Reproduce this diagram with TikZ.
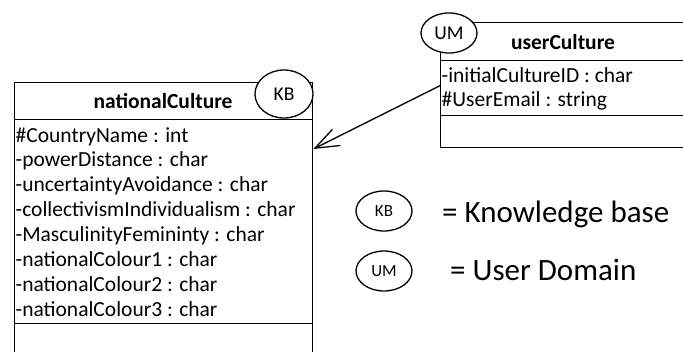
\documentclass[tikz,border=0pt]{standalone}
\usepackage{fontspec}
\setmainfont{Carlito}
\usetikzlibrary{shapes.geometric,arrows.meta}

\tikzset{
  uml/.style={draw, line width=1.3pt, inner sep=0pt, anchor=north west},
  attr/.style={inner sep=0pt, anchor=base west, font=\fontsize{21.5}{24}\selectfont},
  ctitle/.style={inner sep=0pt, anchor=base, font=\fontsize{21.5}{24}\selectfont\bfseries},
  tag/.style={draw, ellipse, fill=white, line width=1.3pt, inner sep=0pt,
              minimum width=56pt, minimum height=40pt, font=\fontsize{19.5}{22}\selectfont},
  keytag/.style={tag, font=\fontsize{17}{20}\selectfont},
  keytext/.style={inner sep=0pt, anchor=base west, font=\fontsize{31}{34}\selectfont},
  assoc/.style={line width=1.3pt, -{Straight Barb[length=24pt,width=18pt,line width=1.3pt]}}
}

\begin{document}
\begin{tikzpicture}[x=1pt, y=-1pt]
\useasboundingbox (0,0) rectangle (683,351);

% class nationalCulture
\node[uml, minimum width=298pt, minimum height=37pt]  (nc-head) at (14,82)  {};
\node[uml, minimum width=298pt, minimum height=204pt] (nc-attr) at (14,119) {};
\node[uml, minimum width=298pt, minimum height=50pt]  (nc-ops)  at (14,323) {};
\node[ctitle] (nc-title) at (163,108.5) {nationalCulture};
\foreach \t [count=\i from 0] in {\#CountryName : int, -powerDistance : char,
    -uncertaintyAvoidance : char, -collectivismIndividualism : char,
    -MasculinityFemininty : char, -nationalColour1 : char,
    -nationalColour2 : char, -nationalColour3 : char}
  \node[attr] (nc-a\i) at (15.5, 142+24.9*\i) {\t};

% class userCulture
\node[uml, minimum width=270pt, minimum height=38pt] (uc-head) at (440,22)  {};
\node[uml, minimum width=270pt, minimum height=55pt] (uc-attr) at (440,60)  {};
\node[uml, minimum width=270pt, minimum height=32pt] (uc-ops)  at (440,115) {};
\node[ctitle] (uc-title) at (563,49) {userCulture};
\node[attr] (uc-a0) at (441.5,82)  {-initialCultureID : char};
\node[attr] (uc-a1) at (441.5,106) {\#UserEmail : string};

% domain tags
\node[tag, minimum width=58pt, minimum height=48pt] (kb-tag) at (284,94) {KB};
\node[tag] (um-tag) at (449,33) {UM};

% association
\draw[assoc] ([yshift=2.5pt]uc-attr.west) -- ([yshift=-30pt]nc-attr.north east);

% key
\node[keytag] (kb-key) at (384,211) {KB};
\node[keytext] (kb-txt) at (442,222) {= Knowledge base};
\node[keytag] (um-key) at (384,271) {UM};
\node[keytext] (um-txt) at (450,280) {= User Domain};
\end{tikzpicture}
\end{document}
